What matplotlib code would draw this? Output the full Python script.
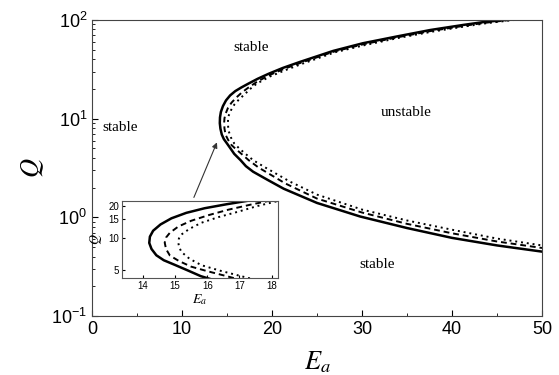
import numpy as np
import matplotlib
matplotlib.use('Agg')
import matplotlib.pyplot as plt

plt.rcParams['mathtext.fontset'] = 'stix'

# Stability boundary curves (E_a, Q)
E_solid = [46.0, 43.5, 41.3, 37.6, 33.9, 30.1, 26.8, 23.1, 21.2, 19.6, 18.4, 17.37, 16.6, 15.92, 15.35,
           14.89, 14.55, 14.32, 14.22, 14.2, 14.27, 14.42, 14.65, 15.0, 15.38, 15.8, 16.5, 17.1,
           17.9, 19.5, 21.3, 25.0, 29.8, 35.0, 40.0, 45.0, 50.0]
Q_solid = [100, 95, 89, 79, 68, 58, 48.5, 37.5, 32.6, 28.4, 25.3, 22.6, 20.7, 19.0, 17.2,
           15.3, 13.4, 11.7, 10.3, 9.0, 7.9, 6.9, 6.2, 5.6, 5.0, 4.4, 3.8, 3.3,
           2.9, 2.4, 1.95, 1.4, 1.02, 0.78, 0.62, 0.52, 0.45]

E_dash = [46.5, 43.5, 41.3, 37.6, 33.9, 30.1, 26.8, 23.1, 21.3, 19.6, 18.3, 17.4, 16.65, 16.05, 15.5,
          15.1, 14.84, 14.72, 14.68, 14.72, 14.84, 15.12, 15.5, 16.0, 16.6, 17.4, 18.5, 21.5,
          25.0, 30.0, 35.0, 40.0, 45.0, 50.0]
Q_dash = [100, 93, 87, 77, 66.5, 56.5, 47.5, 36.5, 31.8, 27.3, 23.5, 20.7, 18.4, 16.4, 14.5,
          12.8, 11.2, 10.1, 9.06, 7.9, 6.86, 6.1, 5.4, 4.9, 4.4, 3.8, 3.2, 2.2,
          1.55, 1.12, 0.86, 0.69, 0.57, 0.49]

E_dot = [47.0, 44.0, 41.5, 37.8, 34.0, 30.3, 27.0, 23.3, 21.5, 19.8, 18.3, 17.55, 16.95, 16.35, 15.82,
         15.45, 15.2, 15.12, 15.1, 15.13, 15.2, 15.45, 15.82, 16.4, 17.05, 17.9, 19.0, 22.0,
         25.0, 30.0, 35.0, 40.0, 45.0, 50.0]
Q_dot = [100, 93, 86, 76, 65.5, 55.5, 47, 35.8, 31, 26.8, 22.6, 19.9, 17.6, 15.7, 13.9,
         12.2, 10.8, 9.9, 9.06, 8.2, 7.4, 6.4, 5.57, 4.95, 4.4, 3.8, 3.3, 2.3,
         1.7, 1.2, 0.93, 0.75, 0.61, 0.52]

curves = [(E_solid, Q_solid, '-', 1.8), (E_dash, Q_dash, (0, (3, 2)), 1.4), (E_dot, Q_dot, (0, (1, 2)), 1.4)]

fig = plt.figure(figsize=(5.59, 3.75), dpi=100)
ax = fig.add_axes([0.1646, 0.157, 0.805, 0.79])

for E, Q, ls, lw in curves:
    ax.plot(E, Q, color='black', linestyle=ls, lw=lw)

ax.set_yscale('log')
ax.set_xlim(0, 50)
ax.set_ylim(0.1, 100)
ax.set_xticks([0, 10, 20, 30, 40, 50])
ax.set_xticks([5, 15, 25, 35, 45], minor=True)
ax.tick_params(which='both', direction='in', top=False, right=False, labelsize=13)
ax.tick_params(which='major', length=4)
ax.tick_params(which='minor', length=2.5)
for lab in ax.get_xticklabels() + ax.get_yticklabels():
    lab.set_family('Liberation Sans')
for sp in ax.spines.values():
    sp.set_color('#444444')

ax.set_xlabel('$E_a$', fontsize=19, labelpad=8)
ax.set_ylabel('$Q$', fontsize=19, labelpad=4)

serif = dict(family='Liberation Serif', fontsize=11, ha='center', va='center')
ax.text(17.7, 52, 'stable', **serif)
ax.text(3.1, 8.2, 'stable', **serif)
ax.text(34.9, 11.5, 'unstable', **serif)
ax.text(31.7, 0.33, 'stable', **serif)

ax.annotate('', xy=(14.0, 6.1), xytext=(11.2, 1.5),
            arrowprops=dict(arrowstyle='-|>', color='#333333', lw=0.8, mutation_scale=8))

# inset zoom around the nose of the curves
ins = fig.add_axes([0.218, 0.2587, 0.279, 0.2053])
for E, Q, ls, lw in curves:
    ins.plot(E, Q, color='black', linestyle=ls, lw=lw)
ins.set_yscale('log')
ins.set_xlim(13.35, 18.19)
ins.set_ylim(4.23, 22.2)
ins.set_xticks([14, 15, 16, 17, 18])
ins.set_yticks([5, 10, 15, 20])
ins.set_yticklabels(['5', '10', '15', '20'])
ins.minorticks_off()
ins.tick_params(direction='in', labelsize=7, length=2.5, pad=2)
for lab in ins.get_xticklabels() + ins.get_yticklabels():
    lab.set_family('Liberation Sans')
for sp in ins.spines.values():
    sp.set_color('#555555')
ins.set_xlabel('$E_a$', fontsize=10, labelpad=1)
ins.set_ylabel('$Q$', fontsize=10, labelpad=3)

fig.savefig('out.png', dpi=100)
